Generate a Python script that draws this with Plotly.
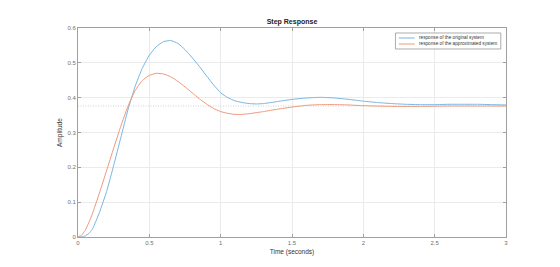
import plotly.graph_objects as go

t_orig = [0, 0.025, 0.05, 0.075, 0.1, 0.15, 0.2, 0.25, 0.3, 0.35, 0.4, 0.45, 0.5, 0.55, 0.6, 0.65, 0.7, 0.75, 0.8, 0.85, 0.9, 0.95, 1.0, 1.05, 1.1, 1.15, 1.2, 1.25, 1.3, 1.4, 1.5, 1.6, 1.7, 1.8, 1.9, 2.0, 2.1, 2.2, 2.3, 2.4, 2.5, 2.6, 2.7, 2.8, 2.9, 3.0]
y_orig = [0, 0.0005, 0.003, 0.01, 0.022, 0.07, 0.13, 0.205, 0.285, 0.365, 0.432, 0.484, 0.522, 0.547, 0.561, 0.564, 0.556, 0.538, 0.515, 0.49, 0.463, 0.437, 0.414, 0.4, 0.391, 0.386, 0.383, 0.382, 0.383, 0.389, 0.395, 0.399, 0.401, 0.399, 0.395, 0.39, 0.386, 0.383, 0.381, 0.38, 0.38, 0.381, 0.381, 0.381, 0.38, 0.379]

t_appr = [0, 0.025, 0.05, 0.075, 0.1, 0.15, 0.2, 0.25, 0.3, 0.35, 0.4, 0.45, 0.5, 0.55, 0.6, 0.65, 0.7, 0.75, 0.8, 0.85, 0.9, 0.95, 1.0, 1.05, 1.1, 1.15, 1.2, 1.3, 1.4, 1.5, 1.6, 1.7, 1.8, 1.9, 2.0, 2.2, 2.4, 2.6, 2.8, 3.0]
y_appr = [0, 0.005, 0.019, 0.04, 0.066, 0.126, 0.19, 0.255, 0.318, 0.375, 0.42, 0.449, 0.464, 0.47, 0.468, 0.46, 0.447, 0.431, 0.414, 0.397, 0.382, 0.369, 0.36, 0.355, 0.352, 0.352, 0.354, 0.36, 0.367, 0.373, 0.378, 0.38, 0.38, 0.379, 0.377, 0.375, 0.375, 0.376, 0.376, 0.376]

final_value = 0.376
series_names = ["response of the original system", "response of the approximated system"]
series_colors = ["#78b6e4", "#f09878"]
x_ticks = [0, 0.5, 1, 1.5, 2, 2.5, 3]
x_tick_labels = ["0", "0.5", "1", "1.5", "2", "2.5", "3"]
y_ticks = [0, 0.1, 0.2, 0.3, 0.4, 0.5, 0.6]
y_tick_labels = ["0", "0.1", "0.2", "0.3", "0.4", "0.5", "0.6"]

FONT = "Liberation Sans, Arial, sans-serif"
W, H = 560, 267
L, R, T, B = 77.5, 53.5, 28.3, 29.5
PW, PH = W - L - R, H - T - B


def px(xp):
    return (xp - L) / PW


def py(yp):
    return (H - B - yp) / PH


fig = go.Figure()
fig.add_trace(go.Scatter(x=[0, 3], y=[final_value, final_value], mode="lines",
                         line=dict(color="#b0b0b0", width=0.6, dash="1px,1.5px"),
                         showlegend=False, hoverinfo="skip"))
for t, y, name, col in [(t_orig, y_orig, series_names[0], series_colors[0]),
                        (t_appr, y_appr, series_names[1], series_colors[1])]:
    fig.add_trace(go.Scatter(x=t, y=y, mode="lines", name=name, showlegend=False,
                             line=dict(color=col, width=1, shape="spline", smoothing=0.4)))

axis_common = dict(showline=True, linecolor="#a0a0a0", linewidth=1, mirror="ticks",
                   ticks="inside", ticklen=3, tickcolor="#a0a0a0",
                   showgrid=True, gridcolor="#ebebeb", gridwidth=1, zeroline=False,
                   tickfont=dict(family=FONT, size=6, color="#707070"))

fig.update_xaxes(range=[0, 3], tickvals=x_ticks, ticktext=x_tick_labels,
                 title=dict(text="Time (seconds)", font=dict(family=FONT, size=6.5, color="#333333"), standoff=4),
                 **axis_common)
fig.update_yaxes(range=[0, 0.6], tickvals=y_ticks, ticktext=y_tick_labels,
                 title=dict(text="Amplitude", font=dict(family=FONT, size=6.5, color="#333333"), standoff=4),
                 **axis_common)

# manual legend (compact, MATLAB-like)
shapes = [dict(type="rect", xref="paper", yref="paper",
               x0=px(395.7), x1=px(501.3), y0=py(49.3), y1=py(33.3),
               line=dict(color="#8a8a8a", width=0.7), fillcolor="white", layer="above")]
annotations = []
for i, (name, col) in enumerate(zip(series_names, series_colors)):
    yy = 38.3 + 6 * i
    shapes.append(dict(type="line", xref="paper", yref="paper",
                       x0=px(399), x1=px(415), y0=py(yy), y1=py(yy),
                       line=dict(color=col, width=1), layer="above"))
    annotations.append(dict(xref="paper", yref="paper", x=px(417.3), y=py(yy),
                            xanchor="left", yanchor="middle", showarrow=False,
                            text=name, font=dict(family=FONT, size=4.7, color="#333333")))

fig.update_layout(
    width=W, height=H,
    margin=dict(l=L, r=R, t=T, b=B),
    paper_bgcolor="white", plot_bgcolor="white",
    title=dict(text="<b>Step Response</b>", xref="paper", x=0.5, xanchor="center",
               y=1 - 21.5 / H, yanchor="middle",
               font=dict(family=FONT, size=7, color="#222222")),
    shapes=shapes, annotations=annotations,
    showlegend=False,
)

fig.write_html("out.html")
